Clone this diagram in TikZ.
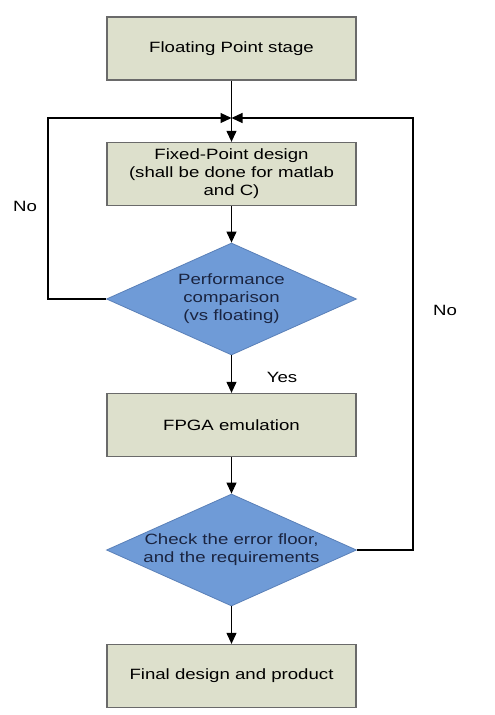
\documentclass[tikz,border=0pt]{standalone}
\usepackage{fontspec}
\setmainfont[FakeStretch=1.25]{Liberation Sans}
\usetikzlibrary{arrows.meta,shapes.geometric}
\definecolor{boxfill}{HTML}{DDE0CC}
\definecolor{boxline}{HTML}{6A6A6A}
\definecolor{diafill}{HTML}{6F9BD7}
\definecolor{dialine}{HTML}{5A80B8}
\definecolor{diatext}{HTML}{1A2440}
\begin{document}
\begin{tikzpicture}[x=1pt,y=-1pt,
  every node/.style={font=\fontsize{14.9}{18}\selectfont},
  stepbox/.style={draw=boxline,line width=1.3pt,fill=boxfill,minimum width=249pt,minimum height=63pt,inner sep=0pt,align=center},
  decision/.style={diamond,aspect=2.232,draw=dialine,line width=0.8pt,fill=diafill,minimum width=250pt,minimum height=112pt,inner xsep=0pt,inner ysep=-5pt,align=center,text=diatext},
  conn/.style={line width=1.1pt,-{Triangle[length=11pt,width=10pt]}},
  lbl/.style={text=black}]
\useasboundingbox (0,0) rectangle (495,715);
\fill[white] (0,0) rectangle (495,715);
\node[stepbox] (b1) at (231.5,48.5) {Floating Point stage};
\node[stepbox] (b2) at (231.5,174) {Fixed-Point design\\(shall be done for matlab\\and C)};
\node[decision] (d1) at (231.5,299) {Performance\\comparison\\(vs floating)};
\node[stepbox] (b3) at (231.5,425) {FPGA emulation};
\node[decision] (d2) at (231.5,550) {Check the error floor,\\and the requirements};
\node[stepbox] (b4) at (231.5,676) {Final design and product};
\coordinate (j) at (231.5,118);
\coordinate (lc) at (48,118);
\coordinate (rc) at (413,118);
\draw[conn] (b1.south) -- (b2.north);
\draw[conn] (b2.south) -- (d1.north);
\draw[conn] (d1.west) -| (lc) -- (j);
\draw[conn] (d1.south) -- (b3.north);
\draw[conn] (b3.south) -- (d2.north);
\draw[conn] (d2.east) -| (rc) -- (j);
\draw[conn] (d2.south) -- (b4.north);
\node[lbl] (yes) at (282,377) {Yes};
\node[lbl] (noL) at (25,206) {No};
\node[lbl] (noR) at (445,310) {No};
\end{tikzpicture}
\end{document}
